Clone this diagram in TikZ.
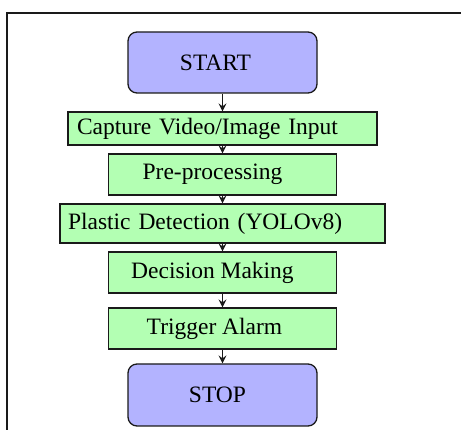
\documentclass[tikz,border=0pt]{standalone}
\usepackage{fontspec}
\setmainfont{Liberation Serif}
\usetikzlibrary{arrows.meta}
\definecolor{termfill}{HTML}{B3B3FF}
\definecolor{stepfill}{HTML}{B3FFB3}
\definecolor{ink}{HTML}{1A1A1A}
\newcommand{\boxfont}{\fontsize{23.5}{27}\selectfont}
\begin{document}
\begin{tikzpicture}[x=1pt,y=1pt,font=\boxfont,
  term/.style={draw=ink,line width=1.3pt,fill=termfill,rounded corners=9pt,minimum width=189pt,inner sep=0},
  stepbox/.style={draw=ink,line width=1.3pt,fill=stepfill,minimum width=228pt,inner sep=0},
  flow/.style={ink,line width=1pt,-{Stealth[length=8pt,width=8pt,inset=3pt]}}]
\useasboundingbox (0,0) rectangle (461,430);
\draw[ink,line width=1.8pt] (7,0) -- (7,417) -- (461,417);
\node[term,minimum height=61pt] (start) at (222.5,367.5) {\hspace*{-14pt}START};
\node[stepbox,minimum height=33pt,inner xsep=9pt,text width=291pt,align=left] (capture) at (222.5,301.5) {\raisebox{3pt}{Capture Video/Image Input}};
\node[stepbox,minimum height=41pt] (prep) at (222.5,255.5) {\hspace*{-20pt}\raisebox{3pt}{Pre-processing}};
\node[stepbox,minimum height=39pt,inner xsep=8pt,text width=309pt,align=left] (detect) at (222.5,206.5) {Plastic Detection (YOLOv8)};
\node[stepbox,minimum height=41pt] (decide) at (222.5,157.5) {\hspace*{-20pt}\raisebox{5pt}{Decision Making}};
\node[stepbox,minimum height=41pt] (alarm) at (222.5,101.5) {\hspace*{-16pt}Trigger Alarm};
\node[term,minimum height=62pt] (stop) at (222.5,35) {\hspace*{-10pt}STOP};
\draw[flow] (start) -- (capture);
\draw[flow] (capture) -- (prep);
\draw[flow] (prep) -- (detect);
\draw[flow] (detect) -- (decide);
\draw[flow] (decide) -- (alarm);
\draw[flow] (alarm) -- (stop);
\end{tikzpicture}
\end{document}
